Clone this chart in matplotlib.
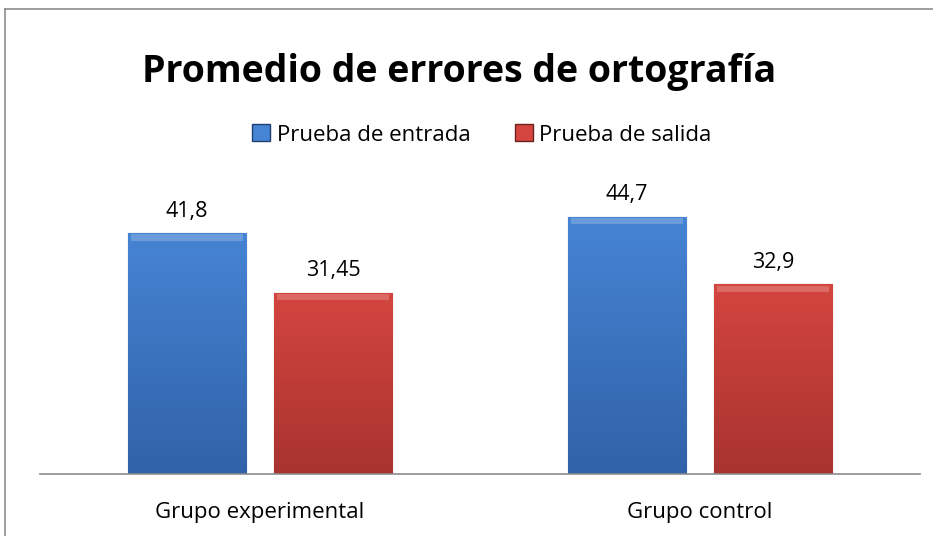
import matplotlib.pyplot as plt
import numpy as np
from matplotlib.lines import Line2D
from matplotlib.patches import Rectangle

grupos = ["Grupo experimental", "Grupo control"]
series = ["Prueba de entrada", "Prueba de salida"]
entrada = [41.8, 44.7]
salida = [31.45, 32.9]
etiquetas_entrada = ["41,8", "44,7"]
etiquetas_salida = ["31,45", "32,9"]

plt.rcParams['font.family'] = ['Open Sans', 'DejaVu Sans']

W, H = 933, 536
fig = plt.figure(figsize=(W / 100, H / 100), dpi=100)
ax = fig.add_axes([40 / W, 1 - 474 / H, 880 / W, 288 / H])

x = np.arange(len(grupos))
ancho = 0.269
desp = 0.166

# colores (arriba, abajo) del degradado
azul = ("#4684d4", "#3062a8")
rojo = ("#d4453f", "#a8332f")


def barra_degradada(b, c):
    x0, y0 = b.get_x(), b.get_y()
    w, h = b.get_width(), b.get_height()
    g = np.linspace(1, 0, 256).reshape(-1, 1)
    c1 = np.array(plt.matplotlib.colors.to_rgb(c[0]))
    c2 = np.array(plt.matplotlib.colors.to_rgb(c[1]))
    img = c2 + (c1 - c2) * g[..., None]
    img = np.repeat(img, 2, axis=1)
    im = ax.imshow(img, extent=[x0, x0 + w, y0, y0 + h], aspect='auto',
                   zorder=2, interpolation='bilinear')
    im.set_clip_path(b)
    # bisel superior
    ax.add_patch(Rectangle((x0 + w * 0.03, y0 + h - 1.3), w * 0.94, 1.1,
                           facecolor='white', alpha=0.2, lw=0, zorder=3))


barras1 = ax.bar(x - desp, entrada, ancho, color=azul[0], edgecolor="#1f3f70",
                 linewidth=0.8, zorder=1, label=series[0])
barras2 = ax.bar(x + desp, salida, ancho, color=rojo[0], edgecolor="#6e201e",
                 linewidth=0.8, zorder=1, label=series[1])
for b in barras1:
    barra_degradada(b, azul)
for b in barras2:
    barra_degradada(b, rojo)

for i in range(len(grupos)):
    ax.text(x[i] - desp, entrada[i] + 2.0, etiquetas_entrada[i], ha='center',
            va='bottom', fontsize=15.5, color='black')
    ax.text(x[i] + desp, salida[i] + 2.0, etiquetas_salida[i], ha='center',
            va='bottom', fontsize=15.5, color='black')

ax.set_xlim(-0.5, 1.5)
ax.set_ylim(0, 50)
for s in ['top', 'right', 'left']:
    ax.spines[s].set_visible(False)
ax.spines['bottom'].set_color('#8c8c8c')
ax.spines['bottom'].set_linewidth(1.2)
ax.set_yticks([])
ax.set_xticks(x)
ax.set_xticklabels(grupos, fontsize=16)
ax.tick_params(axis='x', length=0, pad=20)

fig.text(459 / W, 1 - 72 / H, "Promedio de errores de ortografía", ha='center',
         va='center', fontsize=27, fontweight='bold')

handles = [Rectangle((0, 0), 1, 1, facecolor=azul[0], edgecolor="#1f3f70"),
           Rectangle((0, 0), 1, 1, facecolor=rojo[0], edgecolor="#6e201e")]
fig.legend(handles, series, loc='center', bbox_to_anchor=(482 / W, 1 - 135 / H),
           ncol=2, frameon=False, fontsize=16, handlelength=0.8, handleheight=0.8,
           handletextpad=0.3, columnspacing=2.0)

# marco del gráfico
fig.add_artist(Line2D([5 / W, 5 / W], [0, 1 - 9 / H], color='#8c8c8c', lw=1.2))
fig.add_artist(Line2D([5 / W, 1], [1 - 9 / H, 1 - 9 / H], color='#8c8c8c', lw=1.2))

fig.savefig("out.png", dpi=100)
